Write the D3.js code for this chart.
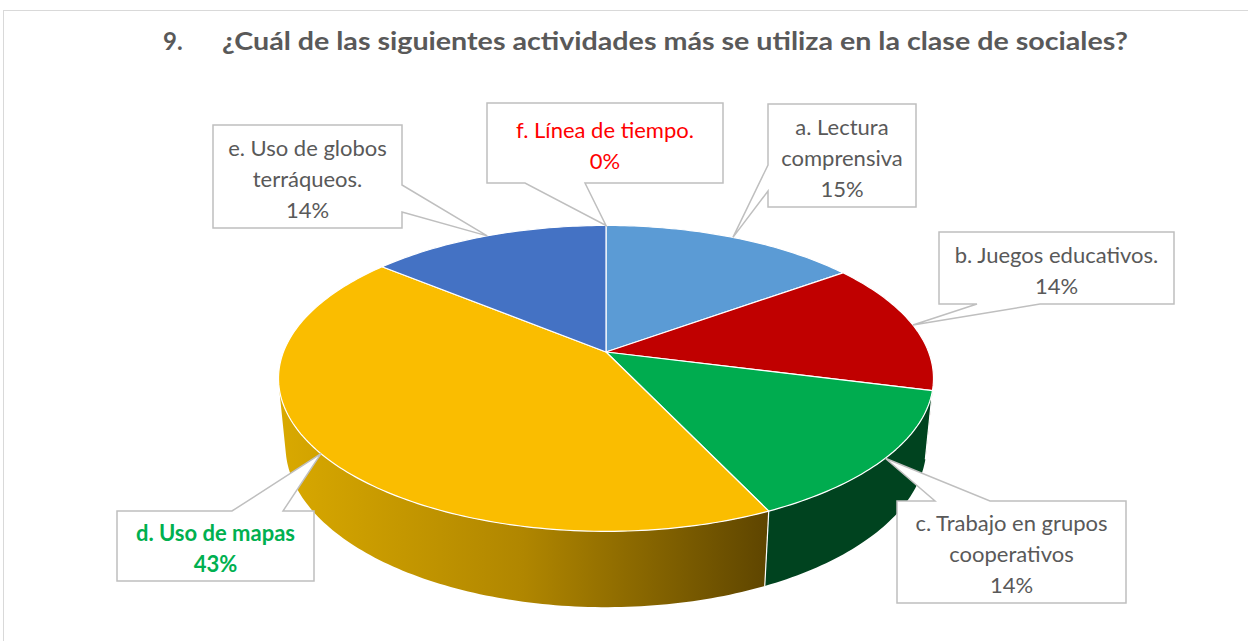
<!DOCTYPE html>
<html>
<head>
<meta charset="utf-8">
<script src="https://cdn.jsdelivr.net/npm/d3@7"></script>
<style>
  body { margin: 0; background: #fff; }
  text { font-family: Lato, "Open Sans", sans-serif; }
</style>
</head>
<body>
<svg id="chart" width="1248" height="641"></svg>
<script>
// data
var titleNum = "9.";
var title = "¿Cuál de las siguientes actividades más se utiliza en la clase de sociales?";
var categories = ["a. Lectura comprensiva", "b. Juegos educativos.", "c. Trabajo en grupos cooperativos",
                  "d. Uso de mapas", "e. Uso de globos terráqueos.", "f. Línea de tiempo."];
var labelLines = [["a. Lectura", "comprensiva"], ["b. Juegos educativos."], ["c. Trabajo en grupos", "cooperativos"],
                  ["d. Uso de mapas"], ["e. Uso de globos", "terráqueos."], ["f. Línea de tiempo."]];
var values = [15, 14, 14, 43, 14, 0];

// styles
var topColors = ["#5B9BD5", "#C00000", "#00AC4F", "#FABD00", "#4472C4", "#A5A5A5"];
var sideColors = ["#2E5C86", "#6A0000", "#00431F", "url(#gradD)", "#27447A", "#666666"];
var labelColors = ["#595959", "#595959", "#595959", "#00B050", "#595959", "#FF0000"];
var labelBold = [false, false, false, true, false, false];

// callout boxes: [x0, y0, x1, y1], side the pointer leaves from, gap on that side
var boxes = [
    {r: [768, 104, 916, 207], side: "left",   gap: [191, 165]},
    {r: [939, 232, 1174, 304], side: "bottom", gap: [1040, 977]},
    {r: [897, 501, 1126, 603], side: "top",    gap: [935, 990]},
    {r: [117, 511, 314, 581], side: "top",    gap: [232, 283]},
    {r: [213, 125, 402, 228], side: "right",  gap: [185, 212]},
    {r: [487, 103, 723, 183], side: "bottom", gap: [585, 525]}
];

var svg = d3.select("#chart");

// chart area border
svg.append("rect")
    .attr("x", 3.5).attr("y", 10.5)
    .attr("width", 1300).attr("height", 700)
    .attr("fill", "#fff")
    .attr("stroke", "#D9D9D9");

// title
svg.append("text")
    .attr("x", 163).attr("y", 50)
    .attr("font-size", 24).attr("font-weight", "bold")
    .attr("fill", "#595959")
    .text(titleNum);
svg.append("text")
    .attr("x", 222).attr("y", 50)
    .attr("font-size", 24).attr("font-weight", "bold")
    .attr("fill", "#595959")
    .attr("textLength", 906).attr("lengthAdjust", "spacingAndGlyphs")
    .text(title);

///////////////////////////////////////////////////////////////
// 3D pie: simple perspective camera looking down on a cylinder
var cx = 606, cy = 352;
var sA = 0.46, cA = Math.sqrt(1 - sA * sA);
var D = 5.146, F = 1660, thick = 0.238;

function proj(theta, yh) {
    var x = Math.sin(theta), z = -Math.cos(theta);
    var v = yh * cA - z * sA;
    var dist = D - z * cA - yh * sA;
    return [cx + F * x / dist, cy - F * v / dist];
}

function arcPoints(a0, a1, yh) {
    var n = Math.max(2, Math.ceil(Math.abs(a1 - a0) / (Math.PI / 180)));
    var pts = [];
    for (var i = 0; i <= n; i++) pts.push(proj(a0 + (a1 - a0) * i / n, yh));
    return pts;
}

var pie = d3.pie().sort(null).startAngle(0).endAngle(2 * Math.PI);
var arcs = pie(values);
var line = d3.line();

// visible part of the outer wall
var vis0 = Math.acos(-1 / (D * cA)), vis1 = 2 * Math.PI - vis0;

var defs = svg.append("defs");
var leftX = proj(vis1, 0)[0];
var gradD = defs.append("linearGradient")
    .attr("id", "gradD")
    .attr("gradientUnits", "userSpaceOnUse")
    .attr("x1", leftX).attr("x2", proj(arcs[3].startAngle, 0)[0])
    .attr("y1", 0).attr("y2", 0);
gradD.append("stop").attr("offset", 0).attr("stop-color", "#D9A900");
gradD.append("stop").attr("offset", 0.5).attr("stop-color", "#B08600");
gradD.append("stop").attr("offset", 1).attr("stop-color", "#5E4500");

var gPie = svg.append("g");

// walls
arcs.forEach(function (d, i) {
    var a0 = Math.max(d.startAngle, vis0), a1 = Math.min(d.endAngle, vis1);
    if (a1 <= a0) return;
    var pts = arcPoints(a0, a1, 0).concat(arcPoints(a1, a0, -thick));
    gPie.append("path")
        .attr("d", line(pts) + "Z")
        .attr("fill", sideColors[i]);
});

// white edges between visible walls
arcs.forEach(function (d) {
    var a = d.startAngle;
    if (a > vis0 && a < vis1) {
        gPie.append("path")
            .attr("d", line([proj(a, 0), proj(a, -thick)]))
            .attr("stroke", "#fff").attr("stroke-width", 1.2);
    }
});

// top faces
arcs.forEach(function (d, i) {
    if (d.endAngle - d.startAngle <= 0) return;
    var pts = [[cx, cy]].concat(arcPoints(d.startAngle, d.endAngle, 0));
    gPie.append("path")
        .attr("d", line(pts) + "Z")
        .attr("fill", topColors[i])
        .attr("stroke", "#fff")
        .attr("stroke-width", 1.2)
        .attr("stroke-linejoin", "round");
});

///////////////////////////////////////////////////////////////
// callout labels
function calloutPath(b, anchor) {
    var x0 = b.r[0], y0 = b.r[1], x1 = b.r[2], y1 = b.r[3];
    var p = [[x0, y0]];
    if (b.side === "top") p.push([b.gap[0], y0], anchor, [b.gap[1], y0]);
    p.push([x1, y0]);
    if (b.side === "right") p.push([x1, b.gap[0]], anchor, [x1, b.gap[1]]);
    p.push([x1, y1]);
    if (b.side === "bottom") p.push([b.gap[0], y1], anchor, [b.gap[1], y1]);
    p.push([x0, y1]);
    if (b.side === "left") p.push([x0, b.gap[0]], anchor, [x0, b.gap[1]]);
    return line(p) + "Z";
}

var lineGap = 31;
arcs.forEach(function (d, i) {
    var b = boxes[i];
    var mid = (d.startAngle + d.endAngle) / 2;
    var anchor = proj(mid, 0);
    var g = svg.append("g").attr("class", "label");
    g.append("path")
        .attr("d", calloutPath(b, anchor))
        .attr("fill", "#fff")
        .attr("stroke", "#BFBFBF")
        .attr("stroke-width", 1.5)
        .attr("stroke-linejoin", "miter");

    var lines = labelLines[i].concat([values[i] + "%"]);
    var mx = (b.r[0] + b.r[2]) / 2, my = (b.r[1] + b.r[3]) / 2 + 1.5;
    lines.forEach(function (t, k) {
        g.append("text")
            .attr("x", mx)
            .attr("y", my + (k - (lines.length - 1) / 2) * lineGap)
            .attr("text-anchor", "middle")
            .attr("dominant-baseline", "central")
            .attr("font-size", 22)
            .attr("font-weight", labelBold[i] ? "bold" : "normal")
            .attr("fill", labelColors[i])
            .text(t);
    });
});
</script>
</body>
</html>
